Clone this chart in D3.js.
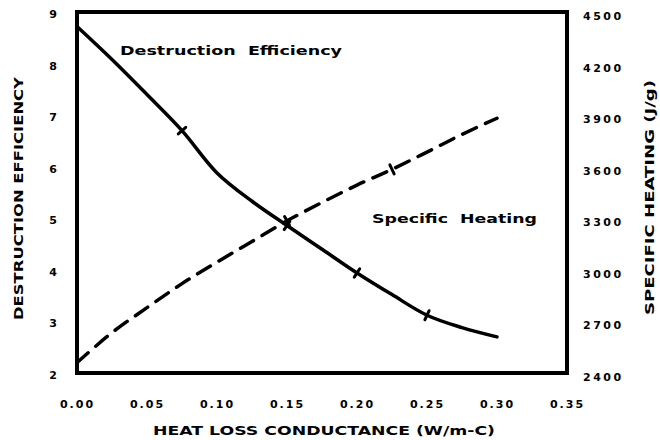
<!DOCTYPE html>
<html>
<head>
<meta charset="utf-8">
<script src="https://cdn.jsdelivr.net/npm/d3@7"></script>
<style>
  html, body { margin: 0; padding: 0; background: #ffffff; }
  svg { display: block; }
  text { font-family: "DejaVu Sans", "Liberation Sans", sans-serif; font-weight: bold; fill: #000; }
</style>
</head>
<body>
<svg id="chart" width="660" height="440"></svg>
<script>
// ---- data ----
const conductance = [0, 0.025, 0.05, 0.075, 0.10, 0.125, 0.15, 0.175, 0.20, 0.225, 0.25, 0.275, 0.30];
const efficiency  = [8.72, 8.08, 7.40, 6.70, 5.88, 5.33, 4.86, 4.40, 3.94, 3.52, 3.12, 2.88, 2.70];
const heating     = [2460, 2635, 2780, 2920, 3045, 3165, 3285, 3392, 3493, 3585, 3685, 3788, 3882];
const efficiencyMarkers = [3, 6, 8, 10];
const heatingMarkers = [6, 9];
const xTicks = [0, 0.05, 0.10, 0.15, 0.20, 0.25, 0.30, 0.35];
const leftTicks = [2, 3, 4, 5, 6, 7, 8, 9];
const rightTicks = [2400, 2700, 3000, 3300, 3600, 3900, 4200, 4500];
const xTitle = "HEAT LOSS CONDUCTANCE (W/m-C)";
const leftTitle = "DESTRUCTION EFFICIENCY";
const rightTitle = "SPECIFIC HEATING (J/g)";
const effLabel = "Destruction  Efficiency";
const heatLabel = "Specific  Heating";

// ---- layout ----
const svg = d3.select("#chart");
const x = d3.scaleLinear().domain([0, 0.35]).range([77, 567]);
const yL = d3.scaleLinear().domain([2, 9]).range([373, 12]);
const yR = d3.scaleLinear().domain([2400, 4500]).range([373, 12]);

// axes (labels only)
const gx = svg.append("g").attr("transform", "translate(0,397)")
  .call(d3.axisBottom(x).tickValues(xTicks).tickFormat(d3.format(".2f")).tickSize(0));
gx.select(".domain").remove();
gx.selectAll("text").attr("font-size", 11).attr("letter-spacing", 2)
  .style("font-family", '"DejaVu Sans", sans-serif').style("font-weight", "bold");

const gl = svg.append("g").attr("transform", "translate(60,2)")
  .call(d3.axisLeft(yL).tickValues(leftTicks).tickFormat(d3.format("d")).tickSize(0));
gl.select(".domain").remove();
gl.selectAll("text").attr("font-size", 11)
  .style("font-family", '"DejaVu Sans", sans-serif').style("font-weight", "bold");

const gr = svg.append("g").attr("transform", "translate(580,4)")
  .call(d3.axisRight(yR).tickValues(rightTicks).tickFormat(d3.format("d")).tickSize(0));
gr.select(".domain").remove();
gr.selectAll("text").attr("font-size", 11).attr("letter-spacing", 2.5)
  .style("font-family", '"DejaVu Sans", sans-serif').style("font-weight", "bold");

// frame
svg.append("rect")
  .attr("x", x(0)).attr("y", yL(9))
  .attr("width", x(0.35) - x(0)).attr("height", yL(2) - yL(9))
  .attr("fill", "none").attr("stroke", "#000").attr("stroke-width", 4);

// curves
const effPts = conductance.map((c, i) => [x(c), yL(efficiency[i])]);
const heatPts = conductance.map((c, i) => [x(c), yR(heating[i])]);
const line = d3.line().curve(d3.curveCatmullRom.alpha(0.5));

svg.append("path").attr("d", line(effPts))
  .attr("fill", "none").attr("stroke", "#000").attr("stroke-width", 3.5)
  .attr("stroke-linecap", "round");
svg.append("path").attr("d", line(heatPts))
  .attr("fill", "none").attr("stroke", "#000").attr("stroke-width", 3.5)
  .attr("stroke-dasharray", "15,10").attr("stroke-linecap", "round");

// small perpendicular tick marks at data points
function ticks(pts, idxs) {
  idxs.forEach(i => {
    const a = pts[Math.max(0, i - 1)], b = pts[Math.min(pts.length - 1, i + 1)];
    const dx = b[0] - a[0], dy = b[1] - a[1], L = Math.hypot(dx, dy);
    const nx = -dy / L * 5, ny = dx / L * 5;
    svg.append("line")
      .attr("x1", pts[i][0] - nx).attr("y1", pts[i][1] - ny)
      .attr("x2", pts[i][0] + nx).attr("y2", pts[i][1] + ny)
      .attr("stroke", "#000").attr("stroke-width", 3).attr("stroke-linecap", "round");
  });
}
ticks(effPts, efficiencyMarkers);
ticks(heatPts, heatingMarkers);

// in-plot labels
svg.append("text").attr("x", 120).attr("y", 55).attr("font-size", 13)
  .attr("textLength", 222).attr("lengthAdjust", "spacingAndGlyphs")
  .style("white-space", "pre").text(effLabel);
svg.append("text").attr("x", 372).attr("y", 223).attr("font-size", 13)
  .attr("textLength", 165).attr("lengthAdjust", "spacingAndGlyphs")
  .style("white-space", "pre").text(heatLabel);

// axis titles
svg.append("text").attr("x", 153).attr("y", 435).attr("font-size", 13)
  .attr("textLength", 342).attr("lengthAdjust", "spacingAndGlyphs").text(xTitle);
svg.append("text").attr("transform", "translate(23,320) rotate(-90)").attr("font-size", 13)
  .attr("textLength", 243).attr("lengthAdjust", "spacingAndGlyphs").text(leftTitle);
svg.append("text").attr("transform", "translate(654,315) rotate(-90)").attr("font-size", 13)
  .attr("textLength", 235).attr("lengthAdjust", "spacingAndGlyphs").text(rightTitle);
</script>
</body>
</html>
